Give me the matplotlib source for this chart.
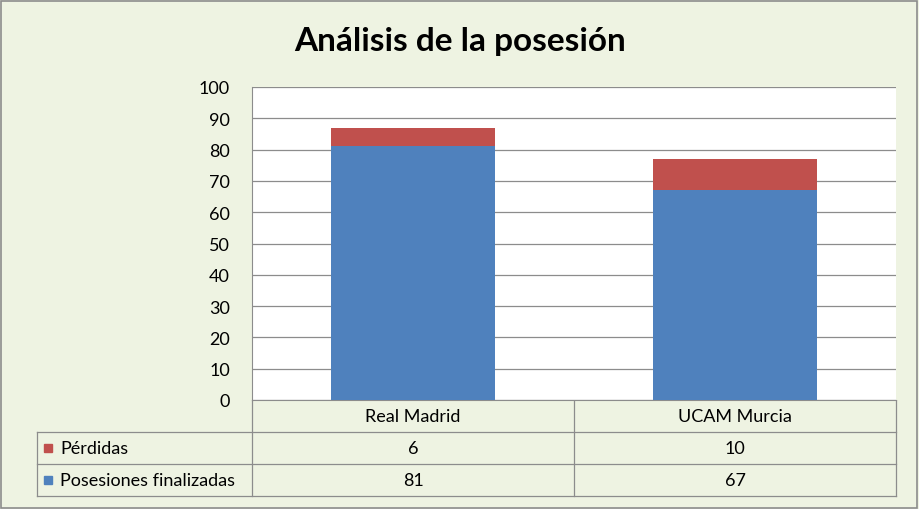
import matplotlib.pyplot as plt
from matplotlib.patches import Rectangle

categories = ["Real Madrid", "UCAM Murcia"]
series_names = ["Pérdidas", "Posesiones finalizadas"]
perdidas = [6, 10]
posesiones = [81, 67]
yticks = list(range(0, 101, 10))

BLUE = "#4F81BD"
RED = "#C0504D"
BG = "#EEF3E2"
FONT = "Lato"

W, H = 919, 510
fig = plt.figure(figsize=(W / 100, H / 100), dpi=100, facecolor=BG)
fig.patches.append(Rectangle((0.001, 0.002), 0.997, 0.995, transform=fig.transFigure,
                             fill=False, edgecolor="#8C8C8C", linewidth=1.2))


def px_axes(x0, y0, x1, y1):
    return fig.add_axes([x0 / W, 1 - y1 / H, (x1 - x0) / W, (y1 - y0) / H])


ax = px_axes(252, 88, 896, 401)
ax.set_facecolor("white")
x = range(len(categories))
ax.bar(x, posesiones, width=0.51, color=BLUE, zorder=3)
ax.bar(x, perdidas, bottom=posesiones, width=0.51, color=RED, zorder=3)
ax.set_xlim(-0.5, len(categories) - 0.5)
ax.set_ylim(0, 100)
ax.set_yticks(yticks)
ax.set_yticklabels([str(t) for t in yticks], fontsize=13, family=FONT)
ax.set_xticks([])
ax.grid(axis="y", color="#8C8C8C", linewidth=0.9, zorder=0)
ax.tick_params(axis="y", length=0, pad=16)
for s in ["top", "right"]:
    ax.spines[s].set_visible(False)
ax.spines["left"].set_color("#8C8C8C")
ax.spines["bottom"].set_color("#8C8C8C")

fig.text(460 / W, 1 - 42 / H, "Análisis de la posesión", ha="center", va="center",
         fontsize=24, fontweight="bold", family=FONT)

# data table
tb = px_axes(30, 401, 900, 500)
tb.set_xlim(30, 900)
tb.set_ylim(500, 401)
tb.axis("off")
lc = "#8C8C8C"
for xv, y0 in [(37, 433), (252, 401), (574, 401), (896, 401)]:
    tb.plot([xv, xv], [y0, 497], color=lc, lw=0.9)
for yv in [433, 465, 497]:
    tb.plot([37, 896], [yv, yv], color=lc, lw=0.9)
col_x = [413, 735]
for cx, c in zip(col_x, categories):
    tb.text(cx, 417, c, ha="center", va="center", fontsize=13, family=FONT)
rows = [(series_names[0], perdidas, RED, 449), (series_names[1], posesiones, BLUE, 481)]
for name, vals, col, yc in rows:
    tb.add_patch(Rectangle((44, yc - 4), 8, 8, color=col))
    tb.text(60, yc, name, ha="left", va="center", fontsize=13, family=FONT)
    for cx, v in zip(col_x, vals):
        tb.text(cx, yc, str(v), ha="center", va="center", fontsize=13, family=FONT)

fig.savefig("out.png", dpi=100, facecolor=BG)
